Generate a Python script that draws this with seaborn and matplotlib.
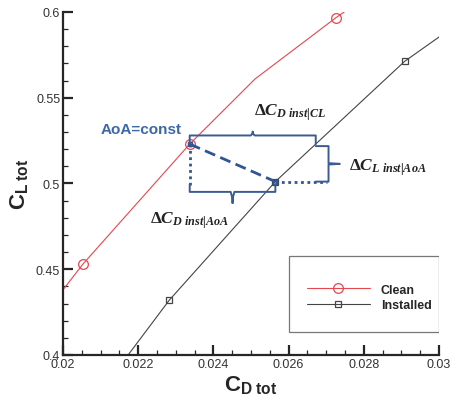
"""Drag polar: clean vs installed configuration, with installation deltas."""

import matplotlib.pyplot as plt
import matplotlib.patches as mpatches
import seaborn as sns
import pandas as pd
import numpy as np

# ---- data ----
clean_cd = [0.0200, 0.02053, 0.02337, 0.02511, 0.02726, 0.02748]
clean_cl = [0.438, 0.453, 0.523, 0.561, 0.5967, 0.600]
clean_markers = [1, 2, 4]

inst_cd = [0.021732, 0.022824, 0.025648, 0.029085, 0.0300]
inst_cl = [0.400, 0.4319, 0.5011, 0.5712, 0.5854]
inst_markers = [1, 2, 3]

x_ticks = [0.020, 0.022, 0.024, 0.026, 0.028, 0.030]
x_labels = ["0.02", "0.022", "0.024", "0.026", "0.028", "0.03"]
y_ticks = [0.40, 0.45, 0.50, 0.55, 0.60]
y_labels = ["0.4", "0.45", "0.5", "0.55", "0.6"]

RED = "#e5474f"
GREY = "#444444"
BLUE = "#2f5597"
BRACE = "#3b5b92"

sns.set_style("ticks")
plt.rcParams.update({
    "font.family": ["Liberation Sans", "DejaVu Sans"],
    "mathtext.fontset": "custom",
    "mathtext.rm": "Liberation Serif:bold",
    "mathtext.it": "Liberation Serif:bold:italic",
    "mathtext.bf": "Liberation Sans:bold",
})

clean_df = pd.DataFrame({"CD": clean_cd, "CL": clean_cl})
inst_df = pd.DataFrame({"CD": inst_cd, "CL": inst_cl})

fig = plt.figure(figsize=(4.51, 4.06), dpi=100)
ax = fig.add_axes([0.1397, 0.1232, 0.8337, 0.8448])

sns.lineplot(data=clean_df, x="CD", y="CL", ax=ax, color=RED, lw=0.8,
             marker="o", markersize=7, markerfacecolor="none",
             markeredgecolor=RED, markeredgewidth=0.9,
             markevery=clean_markers, estimator=None, label="Clean")
sns.lineplot(data=inst_df, x="CD", y="CL", ax=ax, color=GREY, lw=0.8,
             marker="s", markersize=5, markerfacecolor="none",
             markeredgecolor=GREY, markeredgewidth=0.9,
             markevery=inst_markers, estimator=None, label="Installed")

# ---- installation deltas, built from the operating points ----
p_clean = (clean_cd[2], clean_cl[2])
p_inst = (inst_cd[2], inst_cl[2])
cd_same_cl = np.interp(p_clean[1], inst_cl, inst_cd)

ax.plot([p_clean[0], p_inst[0]], [p_clean[1], p_inst[1]], color=BLUE,
        lw=2.0, ls=(0, (4, 2)), marker="s", markersize=3.5,
        markerfacecolor="none", markeredgecolor=BLUE)
ax.plot([p_clean[0], p_clean[0]], [p_clean[1], p_inst[1] - 0.002],
        color=BLUE, lw=2.0, ls=(0, (1, 1.3)))
ax.plot([p_inst[0], cd_same_cl + 0.0003], [p_inst[1], p_inst[1]],
        color=BLUE, lw=2.0, ls=(0, (1, 1.3)))


def brace_h(x0, x1, y, hook, tip):
    xm = 0.5 * (x0 + x1)
    ax.plot([x0, x0, xm - 0.00005, xm, xm, xm, xm + 0.00005, x1, x1],
            [y - hook, y, y, y + 0.6 * tip, y + tip, y + 0.6 * tip, y, y, y - hook],
            color=BRACE, lw=1.4, solid_joinstyle="round")


def brace_v(x, y0, y1, hook, tip):
    ym = 0.5 * (y0 + y1)
    ax.plot([x - hook, x, x, x + tip, x, x, x - hook],
            [y0, y0, ym - 0.0004, ym, ym + 0.0004, y1, y1],
            color=BRACE, lw=1.4, solid_joinstyle="round")


brace_h(p_clean[0], cd_same_cl, p_clean[1] + 0.005, 0.005, 0.0022)
brace_h(p_clean[0], p_inst[0], p_inst[1] - 0.006, -0.0045, -0.0065)
brace_v(cd_same_cl + 0.00034, p_inst[1], p_clean[1] - 0.0012, 0.00034, 0.0003)

ax.text(0.02209, 0.5318, "AoA=const", color="#3d68a8", fontsize=11,
        fontweight="bold", ha="center", va="center")
ax.text(0.02604, 0.5418, r"$\Delta C_{D\ inst|CL}$", color="#222222",
        fontsize=12.5, ha="center", va="center")
ax.text(0.02760, 0.5095, r"$\Delta C_{L\ inst|AoA}$", color="#222222",
        fontsize=12.5, ha="left", va="center")
ax.text(0.02337, 0.4790, r"$\Delta C_{D\ inst|AoA}$", color="#222222",
        fontsize=12.5, ha="center", va="center")

# ---- legend with the tall empty frame ----
ax.add_patch(mpatches.Rectangle((0.6, 0.067), 0.4, 0.222, transform=ax.transAxes,
                                fill=False, edgecolor="#777777", lw=0.9, zorder=5))
ax.legend(loc="center", bbox_to_anchor=(0.815, 0.168), frameon=False,
          handlelength=5.0, handletextpad=0.9, labelspacing=0.25,
          prop={"weight": "bold", "size": 9})

# ---- axes ----
ax.set_xlim(0.02, 0.03)
ax.set_ylim(0.4, 0.6)
ax.set_xticks(x_ticks)
ax.set_xticklabels(x_labels)
ax.set_yticks(y_ticks)
ax.set_yticklabels(y_labels)
ax.set_xticks(np.arange(0.0205, 0.0300, 0.0005), minor=True)
ax.set_yticks(np.arange(0.41, 0.60, 0.01), minor=True)
ax.tick_params(which="major", direction="in", length=7, width=1.6,
               labelsize=9, labelcolor="#333333", pad=2)
ax.tick_params(which="minor", direction="in", length=3.5, width=0.9)
for side in ["top", "right"]:
    ax.spines[side].set_visible(False)
for side in ["left", "bottom"]:
    ax.spines[side].set_linewidth(1.6)
ax.set_xlabel(r"$\mathbf{C}_{\mathbf{D\ tot}}$", fontsize=16, labelpad=2)
ax.set_ylabel(r"$\mathbf{C}_{\mathbf{L\ tot}}$", fontsize=16, labelpad=4)

fig.savefig("out.png", dpi=100)
plt.close(fig)
